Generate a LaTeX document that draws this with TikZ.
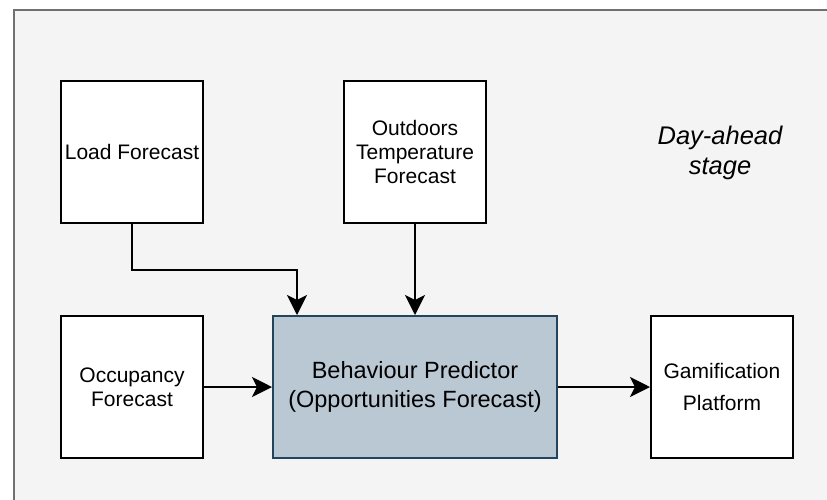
\documentclass[tikz,border=0pt]{standalone}
\usepackage{fontspec}
\setmainfont{Liberation Sans}
\usetikzlibrary{arrows.meta,calc}
\definecolor{bgc}{HTML}{F4F4F4}
\definecolor{bgline}{HTML}{707070}
\definecolor{behfill}{HTML}{BAC8D3}
\definecolor{behline}{HTML}{23445D}
\tikzset{
  box/.style={draw=black, line width=2pt, fill=white, minimum width=142pt, minimum height=142pt, inner sep=0pt, align=center, font=\fontsize{21}{24}\selectfont},
  arr/.style={line width=1.6pt, -{Stealth[length=20pt, width=20pt, inset=5pt]}},
}
\begin{document}
\begin{tikzpicture}[x=1pt, y=-1pt]
\useasboundingbox (0,0) rectangle (827,499);
\clip (0,0) rectangle (827,499);
\draw[bgline, fill=bgc, line width=2pt] (14,10) rectangle (840,515);
\node[box] (load) at (132,152) {Load Forecast};
\node[box] (out) at (415,152) {Outdoors\\Temperature\\Forecast};
\node[box] (occ) at (132,387) {Occupancy\\Forecast};
\node[box, draw=behline, fill=behfill, minimum width=284pt, font=\fontsize{23.5}{29}\selectfont] (beh) at (415,387) {Behaviour Predictor\\(Opportunities Forecast)};
\node[box, font=\fontsize{21}{32}\selectfont] (gam) at (722,387) {Gamification\\Platform};
\node[align=center, font=\fontsize{25.5}{30}\selectfont\itshape] (stage) at (720,153) {Day-ahead\\stage};
\coordinate (lin) at ([xshift=25pt]beh.north west);
\draw[arr] (load.south) -- ++(0,46) -| (lin);
\draw[arr] (out.south) -- (beh.north);
\draw[arr] (occ.east) -- (beh.west);
\draw[arr] (beh.east) -- (gam.west);
\end{tikzpicture}
\end{document}
